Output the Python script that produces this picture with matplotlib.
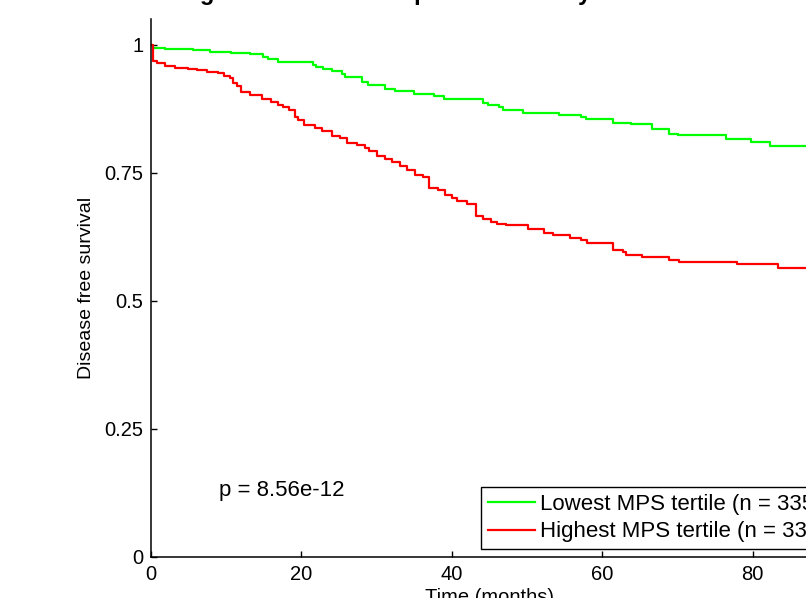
"""
Disease free survival, lowest vs highest MPS tertile (Kaplan-Meier)
"""

import matplotlib

matplotlib.use("Agg")
import matplotlib.pyplot as plt

plt.rcParams["font.family"] = ["Liberation Sans", "DejaVu Sans"]

# ------------------------------------------------------------------------------------
# Data (time in months, survival fraction)
# ------------------------------------------------------------------------------------
low_time = [0, 0.2, 1.9, 5.6, 7.8, 10.7, 13.2, 14.9, 15.6, 16.9, 21.6, 22.0, 22.9,
            24.1, 25.4, 25.8, 28.0, 28.9, 31.1, 32.4, 35.0, 37.6, 39.0, 44.2, 44.8,
            46.2, 46.8, 49.5, 54.2, 57.2, 57.8, 61.4, 63.8, 66.6, 68.9, 70.0, 76.4,
            79.8, 82.3, 90.0]
low_surv = [1.0, 0.994, 0.992, 0.990, 0.986, 0.984, 0.982, 0.976, 0.973, 0.966,
            0.961, 0.958, 0.953, 0.950, 0.943, 0.937, 0.928, 0.922, 0.914, 0.911,
            0.905, 0.901, 0.895, 0.887, 0.883, 0.878, 0.874, 0.868, 0.863, 0.859,
            0.855, 0.847, 0.845, 0.836, 0.827, 0.825, 0.816, 0.811, 0.803, 0.803]

high_time = [0, 0.2, 0.8, 1.9, 3.2, 4.9, 6.1, 7.4, 8.9, 9.7, 10.5, 10.9, 11.4, 11.9,
             13.2, 14.7, 16.0, 16.9, 17.6, 18.3, 19.1, 19.5, 20.3, 21.8, 22.7, 24.0,
             25.1, 26.0, 27.4, 28.5, 29.0, 30.0, 31.1, 32.0, 33.1, 34.0, 35.1, 36.2,
             37.0, 38.2, 39.1, 40.0, 40.7, 42.0, 43.2, 44.2, 45.2, 46.0, 47.2, 50.1,
             52.3, 53.5, 55.7, 57.2, 58.0, 61.4, 62.8, 63.2, 65.3, 68.8, 70.2, 77.9,
             83.4, 90.0]
high_surv = [1.0, 0.969, 0.964, 0.959, 0.956, 0.954, 0.951, 0.948, 0.945, 0.940,
             0.935, 0.925, 0.920, 0.908, 0.902, 0.894, 0.889, 0.883, 0.878, 0.874,
             0.860, 0.854, 0.844, 0.838, 0.832, 0.822, 0.818, 0.808, 0.805, 0.798,
             0.792, 0.783, 0.778, 0.772, 0.764, 0.755, 0.747, 0.742, 0.721, 0.716,
             0.707, 0.702, 0.696, 0.689, 0.666, 0.660, 0.655, 0.651, 0.648, 0.641,
             0.633, 0.628, 0.624, 0.619, 0.613, 0.600, 0.595, 0.590, 0.585, 0.581,
             0.576, 0.573, 0.565, 0.565]

labels = ["Lowest MPS tertile (n = 335)", "Highest MPS tertile (n = 335)"]
p_text = "p = 8.56e-12"
title_text = "Survival among the lowest and top MPS tertile by treatment"
x_ticks = [0, 20, 40, 60, 80]
y_ticks = [0, 0.25, 0.5, 0.75, 1]
y_tick_labels = ["0", "0.25", "0.5", "0.75", "1"]

# ------------------------------------------------------------------------------------
# Plot (the original figure was cropped, so the axes run past the right edge)
# ------------------------------------------------------------------------------------
fig = plt.figure(figsize=(8.06, 5.98), dpi=100)
ax = fig.add_axes([151 / 806, 41 / 598, 677 / 806, 537.6 / 598])

ax.step(low_time, low_surv, where="post", color="#00ff00", lw=1.6, label=labels[0])
ax.step(high_time, high_surv, where="post", color="#ff0000", lw=1.6, label=labels[1])

ax.set_xlim(0, 90)
ax.set_ylim(0, 1.05)
ax.set_xticks(x_ticks)
ax.set_yticks(y_ticks)
ax.set_yticklabels(y_tick_labels)
ax.tick_params(direction="in", length=4.5, width=1, labelsize=14.5, pad=5.5)
for side in ["top", "right"]:
    ax.spines[side].set_visible(False)
for side in ["left", "bottom"]:
    ax.spines[side].set_linewidth(1.1)

ax.set_xlabel("Time (months)", fontsize=14.5, labelpad=3)
ax.set_ylabel("Disease free survival", fontsize=14, labelpad=7)
ax.text(9, 0.129, p_text, fontsize=16, va="center", ha="left")

leg = ax.legend(
    loc="lower left",
    bbox_to_anchor=(481 / 806, 49 / 598),
    bbox_transform=fig.transFigure,
    borderaxespad=0,
    fontsize=16,
    fancybox=False,
    framealpha=1,
    edgecolor="black",
    handlelength=2.15,
    handletextpad=0.2,
    labelspacing=0.3,
    borderpad=0.3,
)
leg.get_frame().set_linewidth(1)

# title sits just above the crop, only its descenders show
fig.text(38 / 806, 1.0, title_text, fontsize=17, fontweight="bold", va="baseline", ha="left")

fig.savefig("out.png", dpi=100)
